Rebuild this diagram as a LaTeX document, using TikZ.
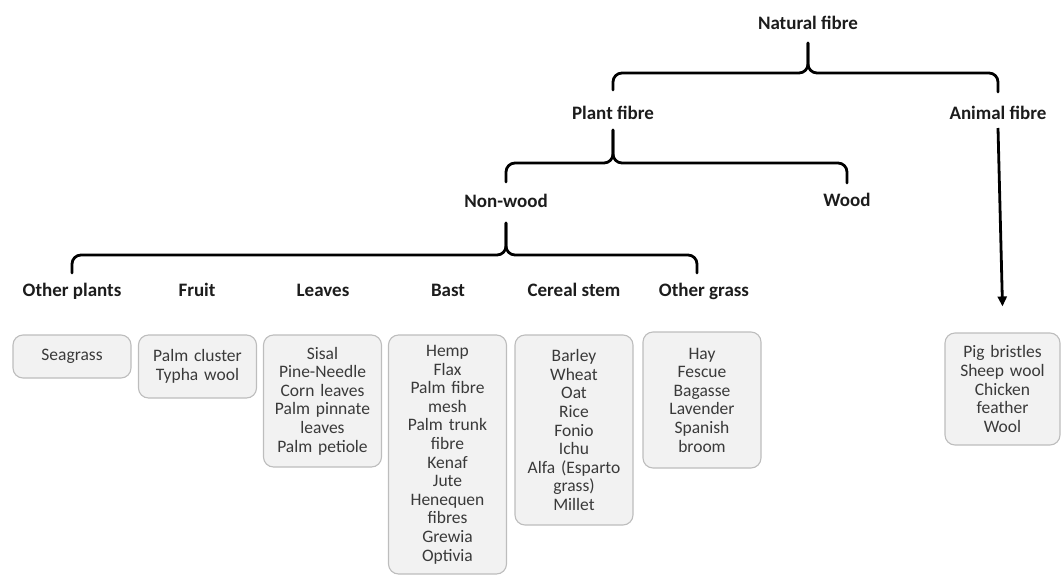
\documentclass[tikz,border=0pt]{standalone}
\usepackage{fontspec}
\setmainfont{Carlito}
\usetikzlibrary{arrows.meta}
\definecolor{boxfill}{HTML}{F2F2F2}
\definecolor{boxline}{HTML}{BDBDBD}
\definecolor{bodytext}{HTML}{3A3A3A}
\definecolor{headtext}{HTML}{1C1C1C}

\begin{document}
\begin{tikzpicture}[x=1pt,y=-1pt,
  head/.style={font=\fontsize{19}{22}\selectfont\bfseries, text=headtext, inner sep=0, anchor=base},
  listbox/.style={draw=boxline, line width=1.1pt, fill=boxfill, rounded corners=10pt,
    inner sep=0, text width=112pt, align=center, minimum width=118pt,
    font=\fontsize{17.5}{18.6}\selectfont, text=bodytext},
  bracket/.style={line width=2.8pt, rounded corners=9pt, line cap=round},
  arrowline/.style={line width=2.8pt, -{Triangle[length=10pt,width=9pt]}}
]
\useasboundingbox (0,0) rectangle (1061,576);

% ---- headings of the hierarchy ----
\node[head] (natural) at (808,29) {Natural fibre};
\node[head] (plant)   at (613,119) {Plant fibre};
\node[head] (animal)  at (998,119) {Animal fibre};
\node[head] (nonwood) at (506,207) {Non-wood};
\node[head] (wood)    at (847,206) {Wood};

\node[head] (other)  at (72,296)  {Other plants};
\node[head] (fruit)  at (197,296) {Fruit};
\node[head] (leaves) at (323,296) {Leaves};
\node[head] (bast)   at (448,296) {Bast};
\node[head] (cereal) at (574,296) {Cereal stem};
\node[head] (ograss) at (704,296) {Other grass};

% ---- lists of fibres ----
\node[listbox, minimum height=43pt]  (bother)  at (72,356.5)  {Seagrass};
\node[listbox, minimum height=63pt]  (bfruit)  at (197.5,366.5) {Palm cluster\\Typha wool};
\node[listbox, minimum height=132pt] (bleaves) at (322.5,401) {Sisal\\Pine-Needle\\Corn leaves\\Palm pinnate\\leaves\\Palm petiole};
\node[listbox, minimum height=239pt] (bbast)   at (447.5,454.5) {Hemp\\Flax\\Palm fibre\\mesh\\Palm trunk\\fibre\\Kenaf\\Jute\\Henequen\\fibres\\Grewia\\Optivia};
\node[listbox, minimum height=190pt] (bcereal) at (574,430) {Barley\\Wheat\\Oat\\Rice\\Fonio\\Ichu\\Alfa (Esparto\\grass)\\Millet};
\node[listbox, minimum height=136pt] (bograss) at (702,400) {Hay\\Fescue\\Bagasse\\Lavender\\Spanish\\broom};
\node[listbox, minimum height=112pt, minimum width=115pt] (banimal) at (1002.5,389) {Pig bristles\\Sheep wool\\Chicken\\feather\\Wool};

% ---- braces ----
\coordinate (barN) at (0,73);
\coordinate (barP) at (0,163);
\coordinate (barW) at (0,255);

\draw[bracket] ([yshift=29pt]plant.base) |- (natural.center |- barN) -- ([yshift=-14pt]natural.base);
\draw[bracket] ([yshift=27pt]animal.base) |- (natural.center |- barN) -- ([yshift=-14pt]natural.base);

\draw[bracket] ([yshift=25pt]nonwood.base) |- (plant.center |- barP) -- ([yshift=-11pt]plant.base);
\draw[bracket] ([yshift=23pt]wood.base) |- (plant.center |- barP) -- ([yshift=-11pt]plant.base);

\draw[bracket] ([yshift=23pt]other.base) |- (nonwood.center |- barW) -- ([yshift=-16pt]nonwood.base);
\draw[bracket] ([xshift=-7pt,yshift=23pt]ograss.base) |- (nonwood.center |- barW) -- ([yshift=-16pt]nonwood.base);

% ---- animal branch ----
\draw[arrowline] ([yshift=-9pt]animal.base) -- ([yshift=26pt]banimal.north);
\end{tikzpicture}
\end{document}
